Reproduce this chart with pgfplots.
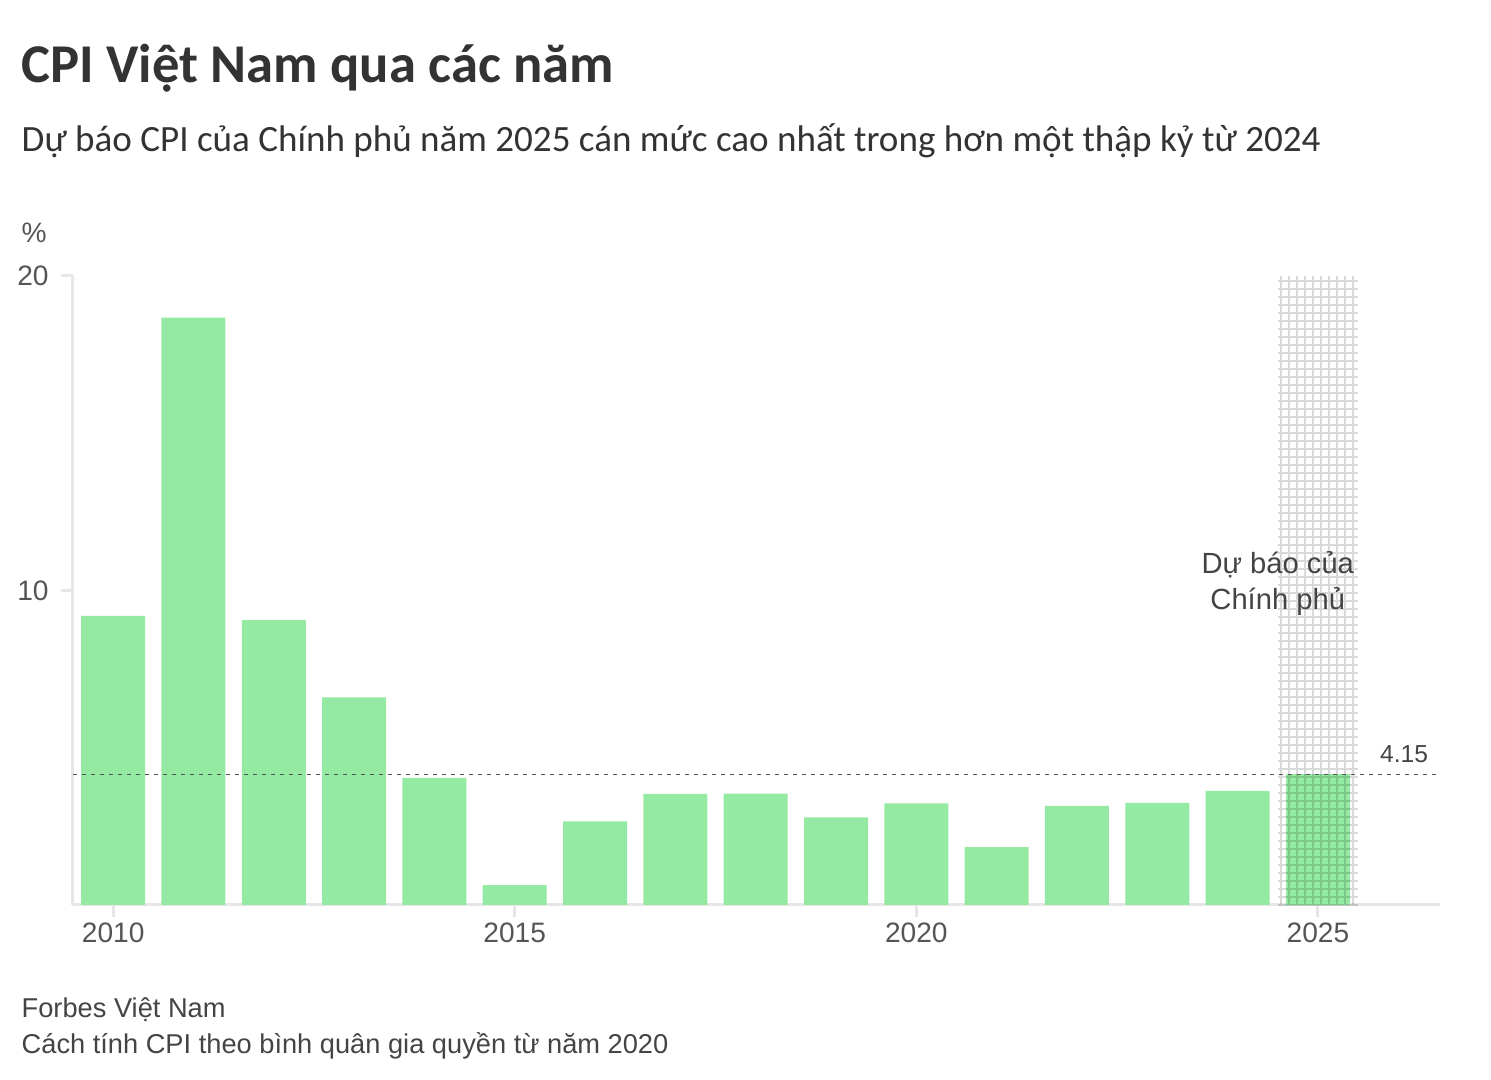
\documentclass[border=0pt]{standalone}
\usepackage{fontspec}
\setmainfont{Liberation Sans}
\newfontfamily\headfont{Carlito}
\usepackage{pgfplots}
\pgfplotsset{compat=1.18}
\definecolor{bargreen}{HTML}{94EAA3}
\definecolor{titlegray}{HTML}{333333}
\definecolor{textgray}{HTML}{444444}
\definecolor{tickgray}{HTML}{555555}
\definecolor{axisgray}{HTML}{E6E6E6}

\begin{document}
\begin{tikzpicture}
\useasboundingbox (0,0) rectangle (149.1mm,-108mm);

\begin{axis}[
    at={(7.3mm,-90.5mm)}, anchor=south west,
    scale only axis, width=136.7mm, height=62.9mm,
    xmin=2009.5, xmax=2026.52, ymin=0, ymax=20,
    axis x line*=bottom, axis y line*=left,
    axis line style={draw=axisgray, line width=0.3mm, -},
    xtick={2010,2015,2020,2025}, ytick={10,20},
    tick style={draw=axisgray, line width=0.3mm},
    major tick length=1.2mm, tick align=outside,
    ticklabel style={font=\fontsize{8}{9}\selectfont, text=tickgray},
    xticklabel style={yshift=0.7mm},
    /pgf/number format/1000 sep={},
    /pgf/number format/assume math mode=true,
    clip=false,
]
% CPI by year (%), 2025 = government forecast
\addplot[ybar, bar width=6.4mm, bar shift=0pt, fill=bargreen, draw=none] coordinates {
    (2010,9.19)(2011,18.68)(2012,9.06)(2013,6.60)(2014,4.04)(2015,0.63)
    (2016,2.66)(2017,3.53)(2018,3.54)(2019,2.79)(2020,3.23)(2021,1.84)
    (2022,3.15)(2023,3.25)(2024,3.63)
};
\addplot[ybar, bar width=6.4mm, bar shift=0pt, fill=bargreen, draw=none] coordinates {
    (2025,4.15)
};
% forecast hatch
\draw[black, draw opacity=0.15, line width=0.2mm, step=0.8mm]
    (axis cs:2024.5,0) grid (axis cs:2025.5,20);
% reference line
\draw[tickgray, line width=0.12mm, dash pattern=on 0.45mm off 0.45mm]
    (axis cs:2009.5,4.15) -- (axis cs:2026.5,4.15);
\node[anchor=base east, inner sep=0, font=\fontsize{7}{8}\selectfont, text=textgray]
    at (axis cs:2026.38,4.15) [yshift=1.2mm] {4.15};
\node[align=center, inner sep=0, font=\fontsize{8.3}{10.2}\selectfont, text=textgray]
    at (axis cs:2024.5,10.22) {Dự báo của\\Chính phủ};
\end{axis}

\node[anchor=base west, inner sep=0, text=titlegray, font=\headfont\bfseries\fontsize{15.55}{18}\selectfont]
    at (2.1mm,-8.3mm) {CPI Việt Nam qua các năm};
\node[anchor=base west, inner sep=0, text=titlegray, font=\headfont\fontsize{10.55}{12}\selectfont]
    at (2.1mm,-15.2mm) {Dự báo CPI của Chính phủ năm 2025 cán mức cao nhất trong hơn một thập kỷ từ 2024};
\node[anchor=base west, inner sep=0, text=tickgray, font=\fontsize{8}{9}\selectfont]
    at (2.1mm,-24.3mm) {\%};
\node[anchor=base west, inner sep=0, text=textgray, font=\fontsize{7.75}{9}\selectfont]
    at (2.1mm,-101.8mm) {Forbes Việt Nam};
\node[anchor=base west, inner sep=0, text=textgray, font=\fontsize{7.75}{9}\selectfont]
    at (2.1mm,-105.4mm) {Cách tính CPI theo bình quân gia quyền từ năm 2020};
\end{tikzpicture}
\end{document}
